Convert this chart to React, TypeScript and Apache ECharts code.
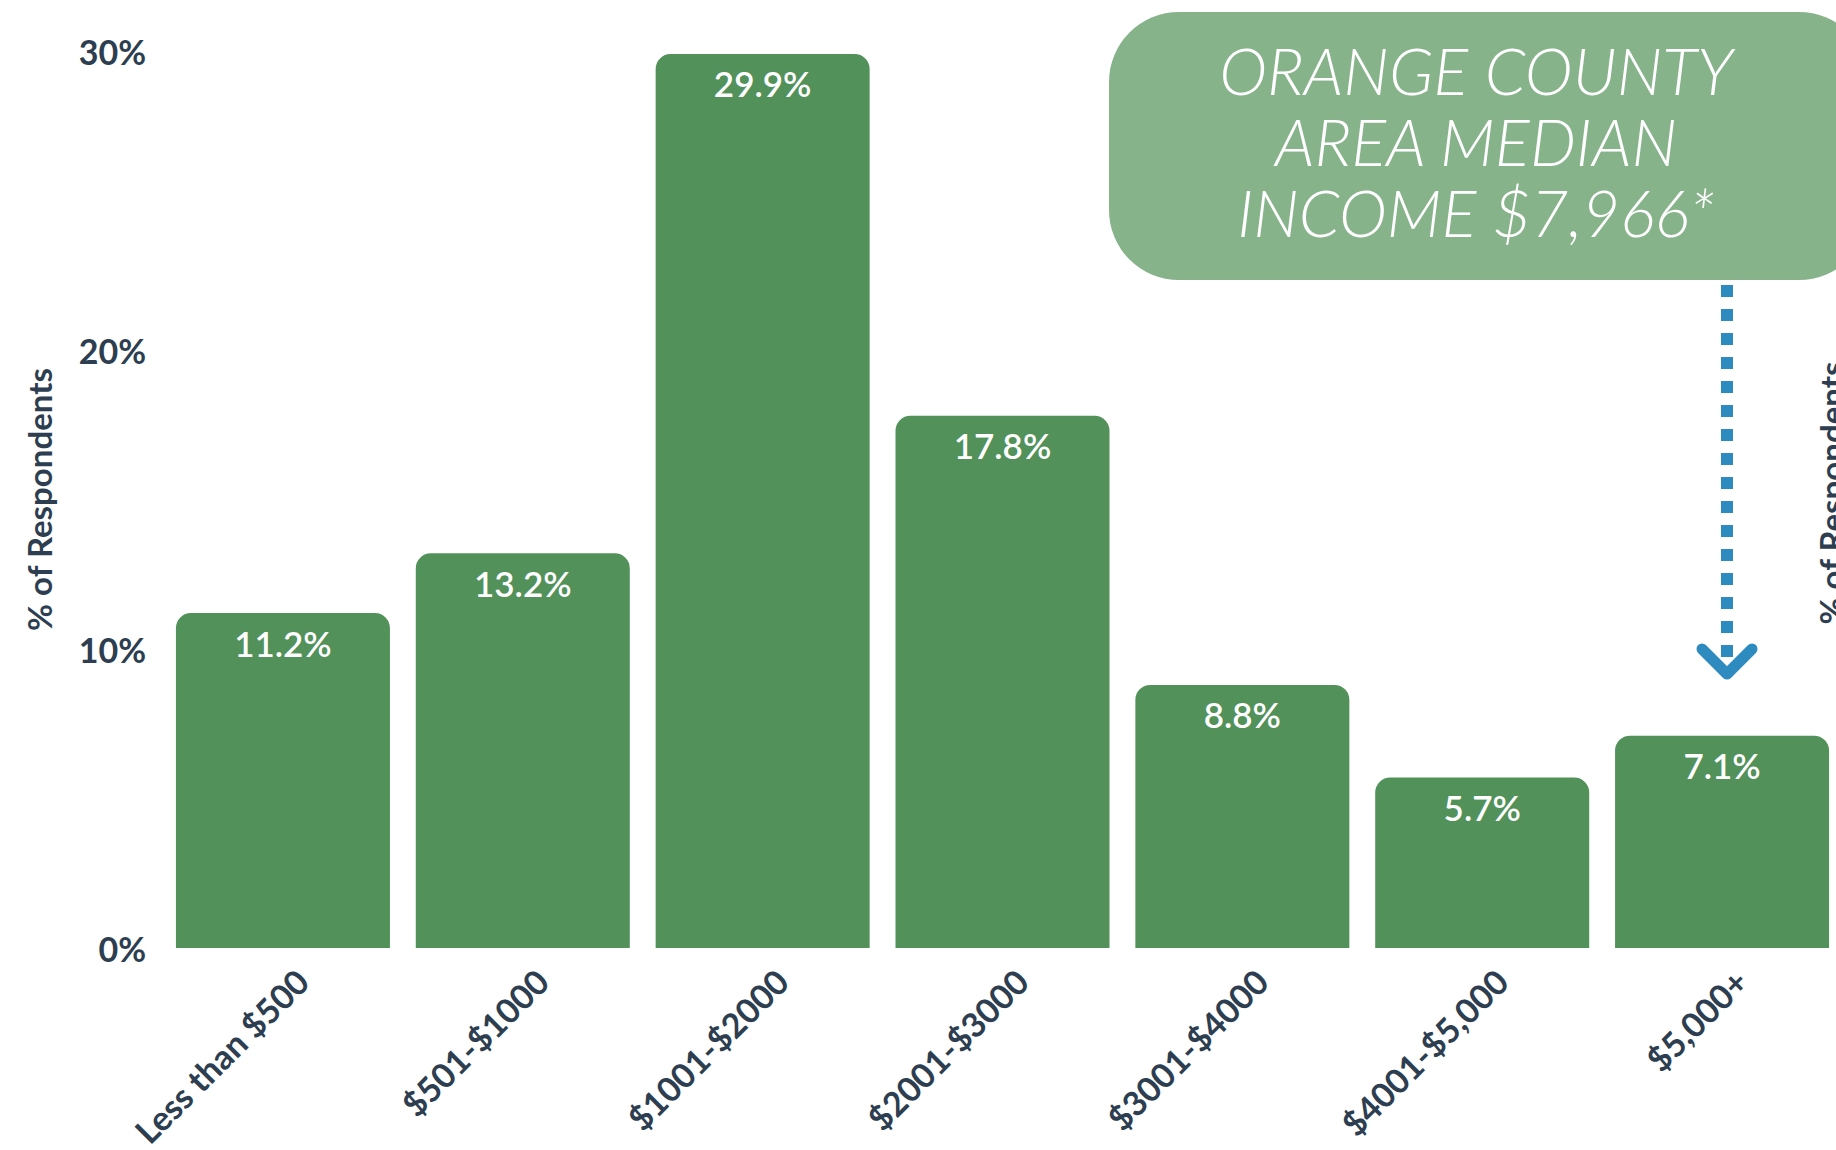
import React, { useEffect, useRef } from "react";
import * as echarts from "echarts";

const categories = [
  "Less than $500",
  "$501-$1000",
  "$1001-$2000",
  "$2001-$3000",
  "$3001-$4000",
  "$4001-$5,000",
  "$5,000+",
];
const values = [11.2, 13.2, 29.9, 17.8, 8.8, 5.7, 7.1];
const yAxisTitle = "% of Respondents";
const calloutLines = ["ORANGE COUNTY", "AREA MEDIAN", "INCOME $7,966*"];

const DARK = "#2c3e50";
const BAR = "#52915a";
const FONT = "Lato, 'Open Sans', sans-serif";

export default function App() {
  const ref = useRef<HTMLDivElement>(null);
  useEffect(() => {
    if (!ref.current) return;
    const chart = echarts.init(ref.current, undefined, { renderer: "svg" });
    const calloutTexts = calloutLines.map((line, i) => ({
      type: "text",
      x: 1476,
      y: 70 + i * 71,
      z: 11,
      style: {
        text: line,
        fill: "#ffffff",
        fontFamily: FONT,
        fontStyle: "italic",
        fontWeight: 300,
        fontSize: 65,
        align: "center",
        verticalAlign: "middle",
      },
    }));
    chart.setOption({
      animation: false,
      backgroundColor: "#ffffff",
      grid: {
        left: 163,
        top: 51,
        width: 1679,
        height: 897,
        outerBoundsMode: "none",
        containLabel: false,
      },
      xAxis: {
        type: "category",
        data: categories,
        axisLine: { show: false },
        axisTick: { show: false },
        axisLabel: {
          interval: 0,
          rotate: 45,
          margin: 8,
          align: "right",
          verticalAlign: "top",
          lineHeight: 54,
          fontFamily: FONT,
          fontWeight: "bold",
          fontSize: 34,
          color: DARK,
        },
      },
      yAxis: {
        type: "value",
        min: 0,
        max: 30,
        interval: 10,
        name: yAxisTitle,
        nameLocation: "middle",
        nameGap: 108,
        nameTextStyle: {
          fontFamily: FONT,
          fontWeight: "bold",
          fontSize: 33,
          color: DARK,
        },
        splitLine: { show: false },
        axisLine: { show: false },
        axisTick: { show: false },
        axisLabel: {
          margin: 17,
          formatter: "{value}%",
          fontFamily: FONT,
          fontWeight: "bold",
          fontSize: 34,
          color: DARK,
        },
      },
      series: [
        {
          type: "bar",
          data: values,
          barWidth: 214,
          itemStyle: { color: BAR, borderRadius: [15, 15, 0, 0] },
          label: {
            show: true,
            position: "insideTop",
            distance: 12,
            formatter: (p: any) => p.value.toFixed(1) + "%",
            fontFamily: FONT,
            fontWeight: 600,
            fontSize: 35,
            color: "#ffffff",
          },
        },
      ],
      graphic: [
        {
          type: "rect",
          shape: { x: 1109, y: 12, width: 760, height: 268, r: 70 },
          style: { fill: "#87b38b" },
          z: 10,
        },
        ...calloutTexts,
        {
          type: "line",
          shape: { x1: 1727, y1: 285, x2: 1727, y2: 660 },
          style: { stroke: "#2e8bc0", lineWidth: 12, lineDash: [12, 12] },
          z: 10,
        },
        {
          type: "polyline",
          shape: { points: [[1702, 649], [1727, 674], [1752, 649]] },
          style: {
            stroke: "#2e8bc0",
            fill: null,
            lineWidth: 11,
            lineCap: "round",
            lineJoin: "round",
          },
          z: 10,
        },
        {
          type: "text",
          x: 1831,
          y: 493,
          rotation: Math.PI / 2,
          style: {
            text: yAxisTitle,
            fill: DARK,
            fontFamily: FONT,
            fontWeight: "bold",
            fontSize: 33,
            align: "center",
            verticalAlign: "middle",
          },
        },
      ],
    });
    return () => chart.dispose();
  }, []);
  return (
    <div
      ref={ref}
      style={{ position: "fixed", left: 0, top: 0, width: 1836, height: 1150 }}
    />
  );
}
